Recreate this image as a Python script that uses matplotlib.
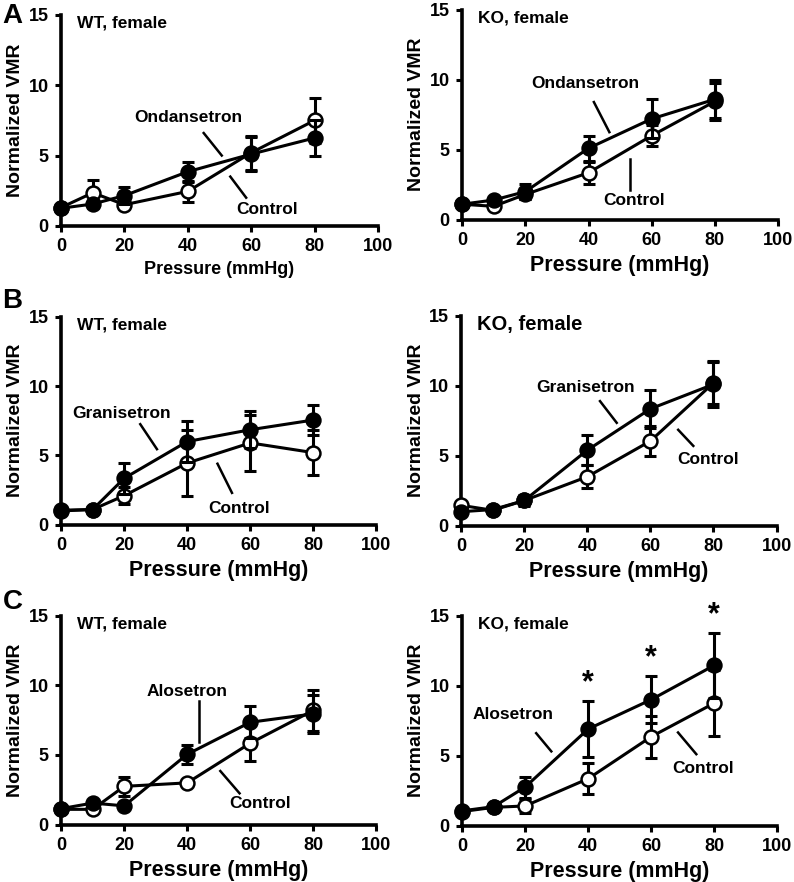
import matplotlib
matplotlib.use("Agg")
import matplotlib.pyplot as plt

plt.rcParams['font.family'] = ['Liberation Sans', 'DejaVu Sans']
plt.rcParams['font.weight'] = 'bold'

pressure = [0, 10, 20, 40, 60, 80]

# panel A: ondansetron
a_wt_ctrl = [1.3, 2.35, 1.5, 2.45, 5.2, 7.5]
a_wt_ctrl_err = [0.2, 0.9, 0.3, 0.75, 1.2, 1.6]
a_wt_drug = [1.25, 1.55, 2.15, 3.85, 5.1, 6.25]
a_wt_drug_err = [0.2, 0.3, 0.6, 0.7, 1.2, 1.25]

a_ko_ctrl = [1.1, 0.95, 1.8, 3.35, 6.0, 8.45]
a_ko_ctrl_err = [0.2, 0.2, 0.3, 0.8, 0.75, 1.3]
a_ko_drug = [1.1, 1.4, 2.0, 5.1, 7.2, 8.6]
a_ko_drug_err = [0.2, 0.2, 0.55, 0.9, 1.4, 1.35]

# panel B: granisetron
b_wt_ctrl = [1.0, 1.1, 2.1, 4.45, 5.9, 5.2]
b_wt_ctrl_err = [0.1, 0.1, 0.6, 2.4, 2.0, 1.6]
b_wt_drug = [1.05, 1.1, 3.35, 6.0, 6.85, 7.55]
b_wt_drug_err = [0.1, 0.1, 1.1, 1.45, 1.35, 1.1]

b_ko_ctrl = [1.45, 1.1, 1.8, 3.5, 6.05, 10.2]
b_ko_ctrl_err = [0.1, 0.1, 0.3, 0.8, 1.05, 1.5]
b_ko_drug = [1.0, 1.15, 1.8, 5.4, 8.35, 10.1]
b_ko_drug_err = [0.1, 0.1, 0.4, 1.05, 1.35, 1.65]

# panel C: alosetron
c_wt_ctrl = [1.1, 1.1, 2.75, 3.0, 5.85, 8.2]
c_wt_ctrl_err = [0.1, 0.2, 0.7, 0.2, 1.3, 1.45]
c_wt_drug = [1.15, 1.55, 1.35, 5.05, 7.35, 7.95]
c_wt_drug_err = [0.1, 0.2, 0.2, 0.7, 1.15, 1.35]

c_ko_ctrl = [1.0, 1.3, 1.4, 3.35, 6.35, 8.75]
c_ko_ctrl_err = [0.1, 0.15, 0.5, 1.1, 1.5, 2.35]
c_ko_drug = [1.05, 1.35, 2.75, 6.9, 9.0, 11.45]
c_ko_drug_err = [0.1, 0.15, 0.75, 2.0, 1.7, 2.3]
c_ko_signif = [40, 60, 80]

panels = [
    # (rect, title, drug name, ctrl, ctrl_err, drug, drug_err, labels)
    ([0.077, 0.744, 0.399, 0.239], "WT, female", "Ondansetron",
     a_wt_ctrl, a_wt_ctrl_err, a_wt_drug, a_wt_drug_err,
     {"drug": (40, 7.7, 45, 6.6, 50.7, 5.0), "ctrl": (65, 1.15, 53.4, 3.5, 58.4, 2.0)}),
    ([0.582, 0.751, 0.398, 0.238], "KO, female", "Ondansetron",
     a_ko_ctrl, a_ko_ctrl_err, a_ko_drug, a_ko_drug_err,
     {"drug": (39, 9.7, 41.7, 8.4, 46.6, 6.25), "ctrl": (54.3, 1.4, 53.1, 4.3, 53.1, 2.15)}),
    ([0.077, 0.405, 0.397, 0.236], "WT, female", "Granisetron",
     b_wt_ctrl, b_wt_ctrl_err, b_wt_drug, b_wt_drug_err,
     {"drug": (19.3, 8.05, 25.1, 7.25, 30.4, 5.45), "ctrl": (56.3, 1.2, 49.6, 4.4, 54.2, 2.3)}),
    ([0.581, 0.404, 0.397, 0.238], "KO, female", "Granisetron",
     b_ko_ctrl, b_ko_ctrl_err, b_ko_drug, b_ko_drug_err,
     {"drug": (39.3, 9.9, 44, 8.9, 49.3, 7.35), "ctrl": (78.4, 4.7, 68.8, 6.85, 73.6, 5.7)}),
    ([0.077, 0.065, 0.397, 0.237], "WT, female", "Alosetron",
     c_wt_ctrl, c_wt_ctrl_err, c_wt_drug, c_wt_drug_err,
     {"drug": (39.9, 9.55, 43.6, 8.85, 43.6, 5.9), "ctrl": (63.2, 1.55, 50.5, 3.85, 56.6, 2.25)}),
    ([0.582, 0.064, 0.397, 0.238], "KO, female", "Alosetron",
     c_ko_ctrl, c_ko_ctrl_err, c_ko_drug, c_ko_drug_err,
     {"drug": (16.1, 7.9, 23.5, 6.6, 28.3, 5.3), "ctrl": (76.4, 4.1, 68.5, 6.65, 74.3, 5.1)}),
]

fig = plt.figure(figsize=(7.94, 8.82), dpi=100)

for i, (rect, title, drug_name, ctrl, ctrl_err, drug, drug_err, labels) in enumerate(panels):
    ax = fig.add_axes(rect)
    # control first, drug drawn on top
    for y, yerr, face, z in [(ctrl, ctrl_err, "white", 3), (drug, drug_err, "black", 5)]:
        ax.errorbar(pressure, y, yerr=yerr, fmt="none", ecolor="black",
                    elinewidth=2.2, capsize=4, capthick=2.2, zorder=z, clip_on=False)
        ax.plot(pressure, y, color="black", lw=2.2, marker="o", ms=10,
                mfc=face, mec="black", mew=1.8, zorder=z + 1, clip_on=False)

    tx, ty, x1, y1, x2, y2 = labels["drug"]
    ax.text(tx, ty, drug_name, ha="center", va="center", fontsize=12.5, fontweight="bold")
    ax.plot([x1, x2], [y1, y2], color="black", lw=1.8)
    tx, ty, x1, y1, x2, y2 = labels["ctrl"]
    ax.text(tx, ty, "Control", ha="center", va="center", fontsize=12.5, fontweight="bold")
    ax.plot([x1, x2], [y1, y2], color="black", lw=1.8)

    if i == 5:
        for xs in c_ko_signif:
            k = pressure.index(xs)
            ax.text(xs, drug[k] + drug_err[k] + 0.2, "*", ha="center", va="bottom",
                    fontsize=22, fontweight="bold")

    title_size = 14.5 if i == 3 else 12.5
    ax.text(0.05, 0.96, title, transform=ax.transAxes, ha="left", va="center",
            fontsize=title_size, fontweight="bold")

    ax.set_xlim(0, 100)
    ax.set_ylim(0, 15)
    ax.set_xticks([0, 20, 40, 60, 80, 100])
    ax.set_yticks([0, 5, 10, 15])
    for s in ["top", "right"]:
        ax.spines[s].set_visible(False)
    for s in ["left", "bottom"]:
        ax.spines[s].set_linewidth(2.6)
    ax.tick_params(width=2.2, length=4, labelsize=13, pad=5)
    for lab in ax.get_xticklabels() + ax.get_yticklabels():
        lab.set_fontweight("bold")
    xl_size = 13 if i == 0 else 15.5
    ax.set_xlabel("Pressure (mmHg)", fontsize=xl_size, fontweight="bold", labelpad=4)
    ax.set_ylabel("Normalized VMR", fontsize=14, fontweight="bold", labelpad=3)

fig.text(0.003, 0.982, "A", fontsize=20, fontweight="bold", va="center")
fig.text(0.003, 0.659, "B", fontsize=20, fontweight="bold", va="center")
fig.text(0.003, 0.317, "C", fontsize=20, fontweight="bold", va="center")

fig.savefig("out.png", dpi=100)
